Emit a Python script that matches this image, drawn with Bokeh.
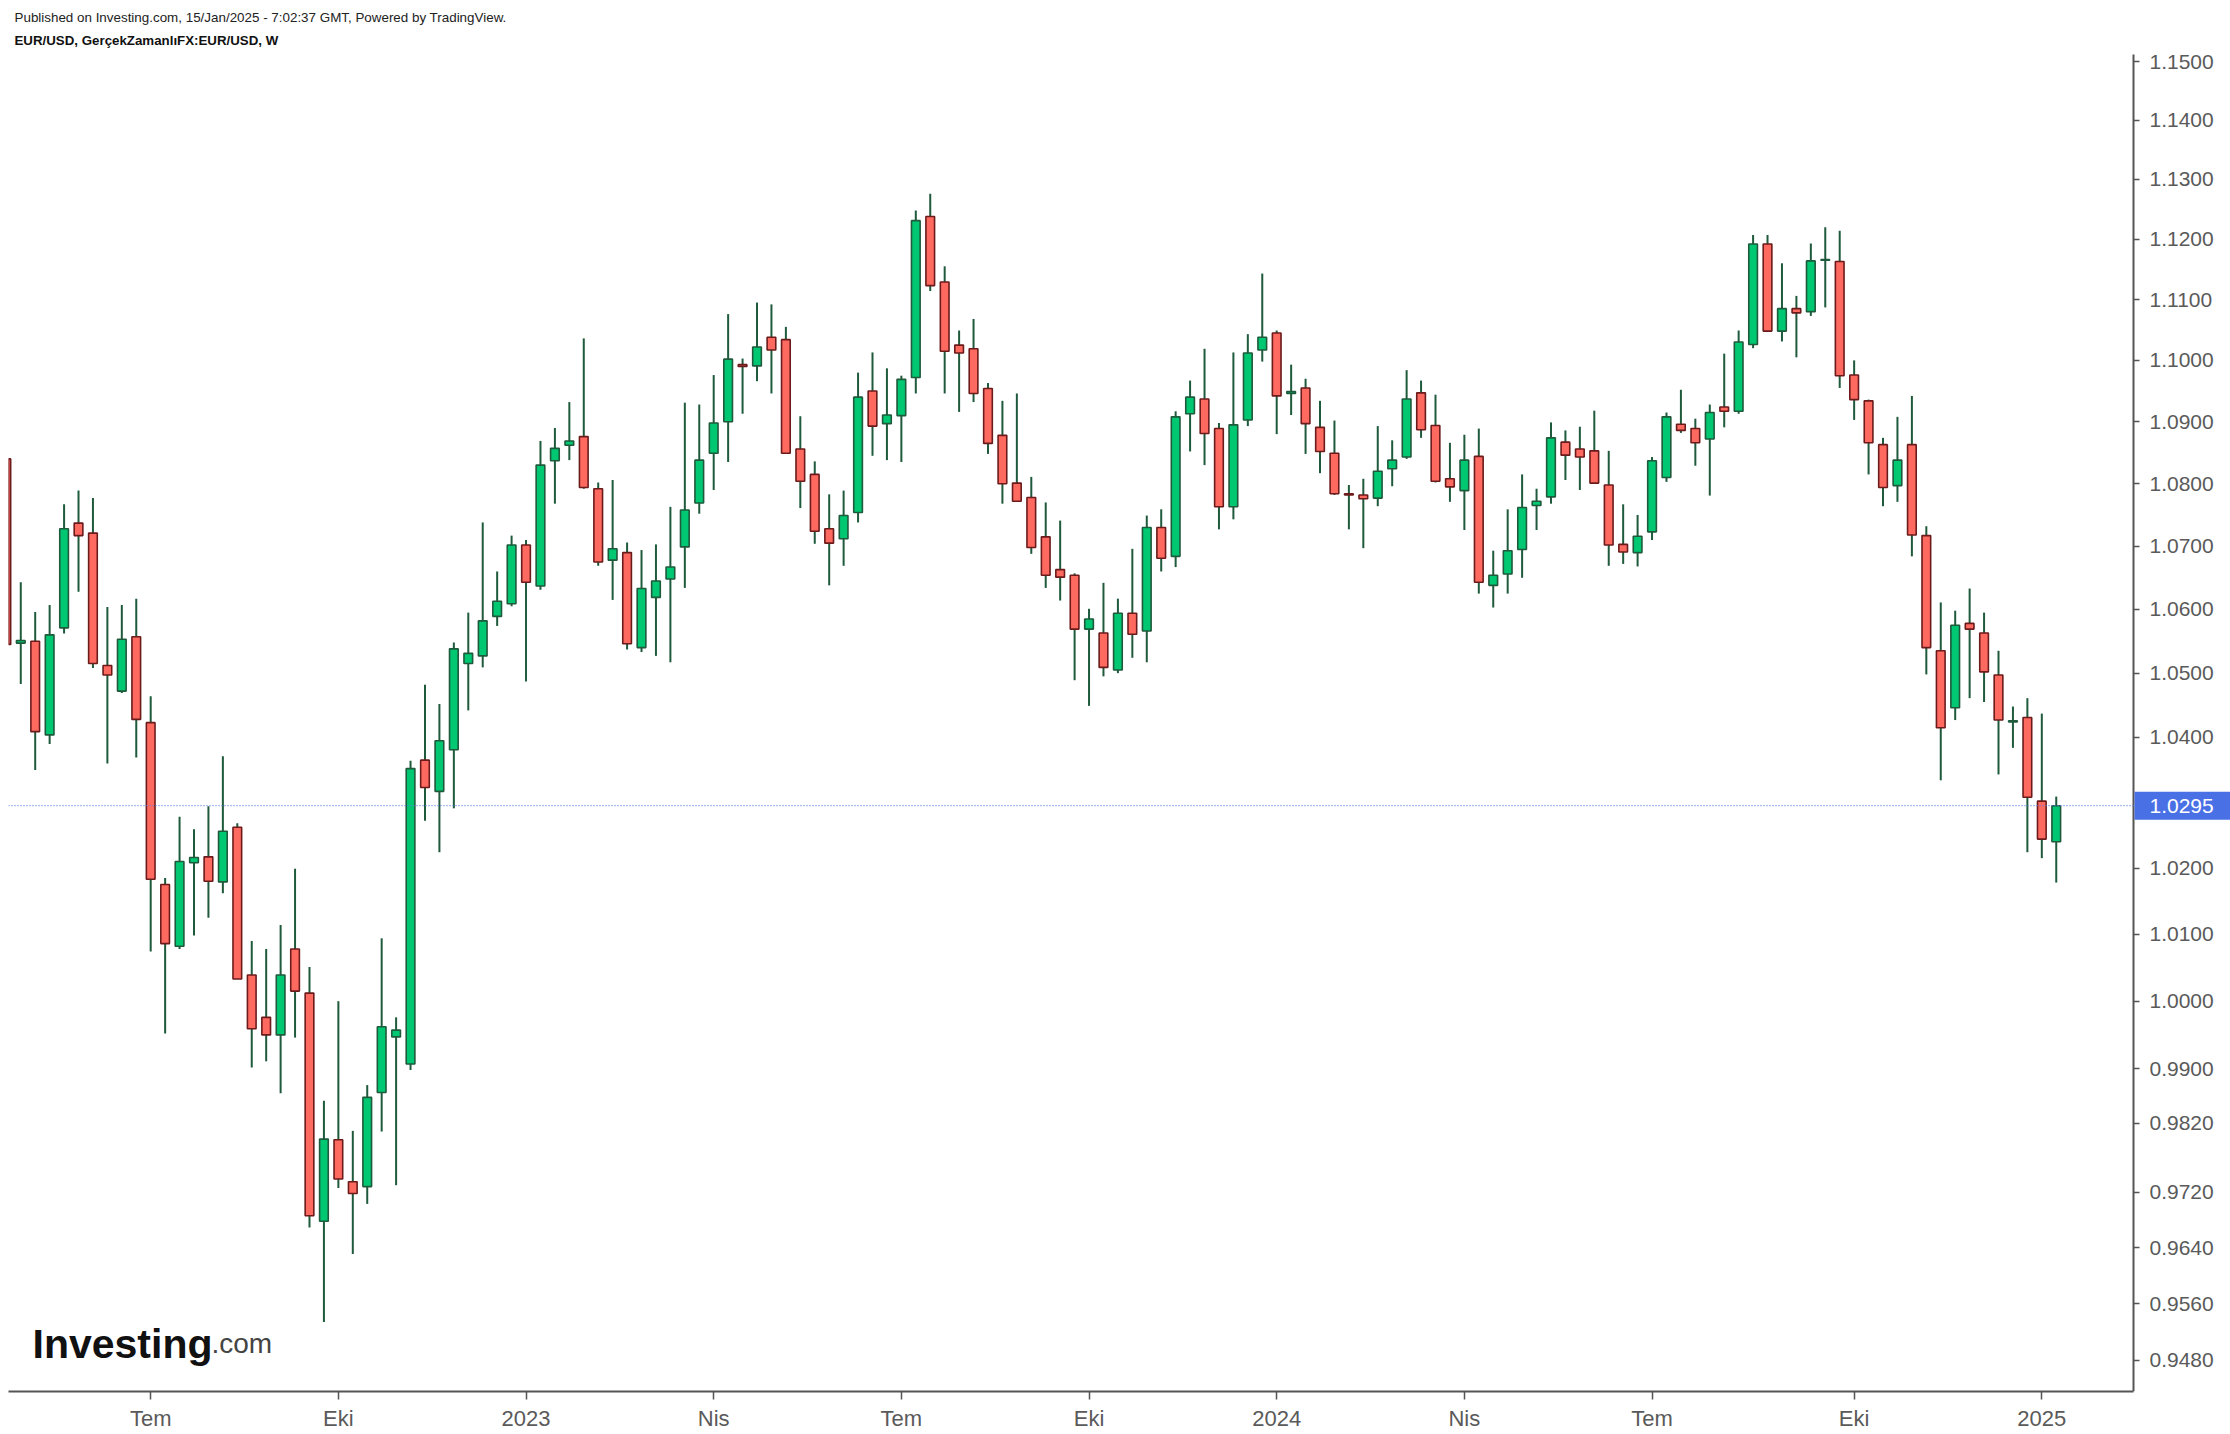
import math
import pandas as pd
from bokeh.plotting import figure
from bokeh.models import (ColumnDataSource, FixedTicker, PrintfTickFormatter, Span,
                          Label, Range1d)
from bokeh.embed import file_html
from bokeh.resources import INLINE

# ---------------- data (EUR/USD weekly) ----------------
week_start = pd.date_range("2022-04-25", periods=143, freq="W-MON")

open_ = [1.0840, 1.0547, 1.0550, 1.0404, 1.0571, 1.0737, 1.0721, 1.0512, 1.0472, 1.0557,
         1.0423, 1.0175, 1.0082, 1.0208, 1.0217, 1.0179, 1.0262, 1.0039, 0.9976, 0.9950,
         1.0078, 1.0012, 0.9678, 0.9796, 0.9735, 0.9728, 0.9865, 0.9947, 0.9907, 1.0365,
         1.0317, 1.0381, 1.0515, 1.0527, 1.0589, 1.0609, 1.0702, 1.0637, 1.0837, 1.0862,
         1.0876, 1.0792, 1.0678, 1.0690, 1.0540, 1.0619, 1.0648, 1.0699, 1.0769, 1.0849,
         1.0900, 1.0993, 1.0991, 1.1038, 1.1034, 1.0856, 1.0815, 1.0728, 1.0712, 1.0754,
         1.0950, 1.0897, 1.0910, 1.0972, 1.1238, 1.1129, 1.1025, 1.1019, 1.0954, 1.0878,
         1.0801, 1.0778, 1.0715, 1.0663, 1.0654, 1.0569, 1.0563, 1.0505, 1.0594, 1.0566,
         1.0730, 1.0684, 1.0913, 1.0937, 1.0889, 1.0763, 1.0903, 1.1017, 1.1045, 1.0946,
         1.0955, 1.0891, 1.0849, 1.0784, 1.0782, 1.0777, 1.0824, 1.0843, 1.0947, 1.0894,
         1.0808, 1.0789, 1.0844, 1.0638, 1.0656, 1.0695, 1.0765, 1.0779, 1.0867, 1.0856,
         1.0853, 1.0798, 1.0703, 1.0690, 1.0723, 1.0810, 1.0896, 1.0889, 1.0872, 1.0924,
         1.0917, 1.1026, 1.1192, 1.1048, 1.1085, 1.1080, 1.1165, 1.1163, 1.0976, 1.0934,
         1.0863, 1.0797, 1.0863, 1.0717, 1.0535, 1.0446, 1.0578, 1.0563, 1.0497, 1.0424,
         1.0431, 1.0302, 1.0240]

high = [1.0850, 1.0643, 1.0596, 1.0607, 1.0767, 1.0789, 1.0777, 1.0604, 1.0607, 1.0617,
        1.0464, 1.0185, 1.0278, 1.0259, 1.0294, 1.0371, 1.0268, 1.0090, 1.0078, 1.0114,
        1.0199, 1.0051, 0.9853, 1.0000, 0.9809, 0.9876, 1.0094, 0.9976, 1.0364, 1.0482,
        1.0452, 1.0548, 1.0595, 1.0738, 1.0660, 1.0717, 1.0710, 1.0869, 1.0890, 1.0932,
        1.1036, 1.0802, 1.0806, 1.0706, 1.0694, 1.0703, 1.0763, 1.0931, 1.0928, 1.0976,
        1.1076, 1.1003, 1.1095, 1.1092, 1.1055, 1.0909, 1.0836, 1.0783, 1.0789, 1.0980,
        1.1013, 1.0987, 1.0975, 1.1248, 1.1276, 1.1155, 1.1049, 1.1068, 1.0963, 1.0934,
        1.0946, 1.0811, 1.0770, 1.0741, 1.0657, 1.0601, 1.0642, 1.0617, 1.0696, 1.0749,
        1.0759, 1.0917, 1.0967, 1.1019, 1.0898, 1.1013, 1.1043, 1.1143, 1.1049, 1.0993,
        1.0970, 1.0934, 1.0902, 1.0798, 1.0808, 1.0893, 1.0870, 1.0984, 1.0967, 1.0944,
        1.0866, 1.0879, 1.0889, 1.0693, 1.0759, 1.0815, 1.0792, 1.0899, 1.0886, 1.0892,
        1.0918, 1.0853, 1.0767, 1.0750, 1.0843, 1.0915, 1.0952, 1.0905, 1.0928, 1.1011,
        1.1049, 1.1207, 1.1207, 1.1160, 1.1106, 1.1193, 1.1220, 1.1214, 1.1000, 1.0936,
        1.0874, 1.0908, 1.0942, 1.0732, 1.0611, 1.0598, 1.0633, 1.0595, 1.0535, 1.0448,
        1.0461, 1.0437, 1.0309]

low = [1.0470, 1.0483, 1.0350, 1.0390, 1.0562, 1.0628, 1.0508, 1.0360, 1.0469, 1.0369,
       1.0074, 0.9952, 1.0078, 1.0098, 1.0125, 1.0162, 1.0033, 0.9902, 0.9911, 0.9864,
       0.9946, 0.9669, 0.9534, 0.9726, 0.9631, 0.9703, 0.9808, 0.9730, 0.9898, 1.0272,
       1.0224, 1.0291, 1.0442, 1.0509, 1.0574, 1.0605, 1.0487, 1.0631, 1.0768, 1.0838,
       1.0792, 1.0669, 1.0615, 1.0537, 1.0533, 1.0527, 1.0517, 1.0634, 1.0752, 1.0790,
       1.0835, 1.0913, 1.0966, 1.0946, 1.0849, 1.0761, 1.0704, 1.0638, 1.0669, 1.0738,
       1.0845, 1.0838, 1.0835, 1.0946, 1.1114, 1.0946, 1.0916, 1.0932, 1.0848, 1.0768,
       1.0772, 1.0688, 1.0634, 1.0614, 1.0489, 1.0449, 1.0495, 1.0500, 1.0524, 1.0517,
       1.0660, 1.0667, 1.0852, 1.0830, 1.0727, 1.0743, 1.0893, 1.0998, 1.0880, 1.0911,
       1.0848, 1.0817, 1.0782, 1.0727, 1.0697, 1.0764, 1.0796, 1.0840, 1.0874, 1.0802,
       1.0771, 1.0726, 1.0625, 1.0603, 1.0625, 1.0650, 1.0726, 1.0768, 1.0806, 1.0790,
       1.0801, 1.0669, 1.0672, 1.0668, 1.0710, 1.0803, 1.0882, 1.0829, 1.0781, 1.0891,
       1.0913, 1.1020, 1.1048, 1.1031, 1.1005, 1.1073, 1.1087, 1.0955, 1.0903, 1.0815,
       1.0764, 1.0771, 1.0684, 1.0498, 1.0334, 1.0427, 1.0461, 1.0455, 1.0343, 1.0384,
       1.0224, 1.0215, 1.0178]

close = [1.0545, 1.0551, 1.0409, 1.0560, 1.0728, 1.0717, 1.0515, 1.0497, 1.0553, 1.0428,
         1.0183, 1.0086, 1.0210, 1.0216, 1.0180, 1.0256, 1.0033, 0.9959, 0.9950, 1.0039,
         1.0015, 0.9686, 0.9797, 0.9739, 0.9718, 0.9858, 0.9962, 0.9957, 1.0352, 1.0323,
         1.0395, 1.0538, 1.0531, 1.0582, 1.0613, 1.0702, 1.0643, 1.0830, 1.0857, 1.0869,
         1.0794, 1.0675, 1.0696, 1.0546, 1.0633, 1.0645, 1.0667, 1.0758, 1.0838, 1.0898,
         1.1002, 1.0990, 1.1022, 1.1017, 1.0849, 1.0804, 1.0724, 1.0705, 1.0749, 1.0940,
         1.0893, 1.0911, 1.0969, 1.1231, 1.1123, 1.1015, 1.1012, 1.0946, 1.0865, 1.0800,
         1.0772, 1.0698, 1.0654, 1.0651, 1.0569, 1.0585, 1.0509, 1.0594, 1.0561, 1.0730,
         1.0681, 1.0908, 1.0940, 1.0881, 1.0763, 1.0895, 1.1012, 1.1038, 1.0942, 1.0949,
         1.0897, 1.0852, 1.0784, 1.0782, 1.0776, 1.0820, 1.0838, 1.0937, 1.0887, 1.0804,
         1.0795, 1.0838, 1.0643, 1.0654, 1.0693, 1.0762, 1.0772, 1.0874, 1.0846, 1.0843,
         1.0801, 1.0702, 1.0691, 1.0716, 1.0837, 1.0908, 1.0886, 1.0866, 1.0915, 1.0917,
         1.1030, 1.1192, 1.1048, 1.1085, 1.1078, 1.1164, 1.1166, 1.0975, 1.0936, 1.0866,
         1.0794, 1.0838, 1.0718, 1.0540, 1.0415, 1.0575, 1.0569, 1.0502, 1.0427, 1.0426,
         1.0308, 1.0244, 1.0295]

tick_months = ["2022-07-01", "2022-10-01", "2023-01-01", "2023-04-01", "2023-07-01",
               "2023-10-01", "2024-01-01", "2024-04-01", "2024-07-01", "2024-10-01",
               "2025-01-01"]
tick_labels = ["Tem", "Eki", "2023", "Nis", "Tem", "Eki", "2024", "Nis", "Tem", "Eki", "2025"]

price_ticks = [1.15, 1.14, 1.13, 1.12, 1.11, 1.10, 1.09, 1.08, 1.07, 1.06, 1.05, 1.04,
               1.02, 1.01, 1.00, 0.99, 0.982, 0.972, 0.964, 0.956, 0.948]
last_price = 1.0295

header_line1 = "Published on Investing.com, 15/Jan/2025 - 7:02:37 GMT, Powered by TradingView."
header_line2 = "EUR/USD, GerçekZamanlıFX:EUR/USD, W"

# ---------------- layout constants ----------------
W, H = 2230, 1434
BL, BB = 8, 43                 # left / bottom borders of the frame
PANE_TOP, AXIS_X = 54, 2133    # price pane top edge and y-axis position (px)
PX_PER_BAR = 14.436
X0 = 0.15
Y0, Y_TOP = 0.9436, 1.1512     # price range of the visible pane
FW, FH = W - BL, H - BB
LOG_PER_PX = (math.log(Y_TOP) - math.log(Y0)) / (FH - PANE_TOP)
X1 = X0 + FW / PX_PER_BAR
Y1 = math.exp(math.log(Y0) + FH * LOG_PER_PX)

def xd(px):
    return X0 + (px - BL) / PX_PER_BAR

def yd(py):
    return math.exp(math.log(Y1) - py * LOG_PER_PX)

X_AXIS = xd(AXIS_X)

GREEN_FILL, GREEN_LINE = "#00c872", "#1e5a3b"
RED_FILL, RED_LINE = "#ff6a60", "#6b1b1b"
WICK = "#1e5a3b"
AXIS = "#555555"
FONT = "Liberation Sans"

idx = list(range(len(open_)))
up = [c >= o for o, c in zip(open_, close)]
src = ColumnDataSource(dict(
    x=idx, high=high, low=low,
    top=[max(o, c) for o, c in zip(open_, close)],
    bottom=[min(o, c) for o, c in zip(open_, close)],
    fill=[GREEN_FILL if u else RED_FILL for u in up],
    line=[GREEN_LINE if u else RED_LINE for u in up],
))

p = figure(width=W, height=H, x_range=Range1d(X0, X1), y_range=Range1d(Y0, Y1),
           y_axis_type="log", y_axis_location="right",
           output_backend="svg", toolbar_location=None,
           min_border_left=BL, min_border_right=0, min_border_top=0, min_border_bottom=BB)
p.xgrid.visible = False
p.ygrid.visible = False
p.outline_line_color = None
p.background_fill_color = "white"
p.border_fill_color = "white"

# current price line
p.add_layout(Span(location=last_price, dimension="width", line_color="#5b7fe6",
                  line_dash="1 2", line_width=1.2))

p.segment(x0="x", y0="low", x1="x", y1="high", source=src, line_color=WICK, line_width=2)
p.vbar(x="x", width=0.6, top="top", bottom="bottom", source=src,
       fill_color="fill", line_color="line", line_width=1.6)

# x axis ticks at the first weekly bar of each quarter
tick_pos = []
for m in tick_months:
    ts = pd.Timestamp(m)
    tick_pos.append(float(next(i for i, d in enumerate(week_start) if d >= ts)))
p.xaxis.ticker = FixedTicker(ticks=tick_pos, minor_ticks=[])
p.xaxis.major_label_overrides = {t: l for t, l in zip(tick_pos, tick_labels)}
p.xaxis.bounds = (X0, X_AXIS)

p.yaxis.ticker = FixedTicker(ticks=price_ticks, minor_ticks=[])
p.yaxis.formatter = PrintfTickFormatter(format="%.4f")
p.yaxis.fixed_location = X_AXIS
p.yaxis.bounds = (Y0, Y_TOP)

for ax in (p.xaxis[0], p.yaxis[0]):
    ax.axis_line_color = AXIS
    ax.axis_line_width = 2
    ax.major_tick_line_color = AXIS
    ax.major_tick_line_width = 1.5
    ax.major_tick_in = 0
    ax.minor_tick_line_color = None
    ax.major_label_text_color = "#5a5a5a"
    ax.major_label_text_font = FONT
p.xaxis.major_label_text_font_size = "22px"
p.yaxis.major_label_text_font_size = "21px"
p.xaxis.major_tick_out = 8
p.xaxis.major_label_standoff = 6
p.yaxis.major_tick_out = 6
p.yaxis.major_label_standoff = 10

# price badge on the right axis
p.add_layout(Label(x=X_AXIS, y=last_price, x_offset=1, text=f"{last_price:.4f}",
                   text_align="left", text_baseline="middle", text_color="white",
                   text_font=FONT, text_font_size="21px",
                   background_fill_color="#4a70e6",
                   padding=dict(left=15, right=30, top=7, bottom=7)))

# header
p.add_layout(Label(x=xd(14), y=yd(17), text=header_line1, text_baseline="middle",
                   text_font=FONT, text_font_size="13.4px", text_color="#222222"))
p.add_layout(Label(x=xd(14), y=yd(40), text=header_line2, text_baseline="middle",
                   text_font=FONT, text_font_size="13.3px", text_font_style="bold",
                   text_color="#111111"))

# watermark logo
p.add_layout(Label(x=xd(32), y=yd(1343), text="Investing", text_baseline="alphabetic",
                   text_font=FONT, text_font_size="41px", text_font_style="bold",
                   text_color="#111111"))
p.add_layout(Label(x=xd(211), y=yd(1343), text=".com", text_baseline="alphabetic",
                   text_font=FONT, text_font_size="28px", text_color="#444444"))

open("out.html", "w").write(file_html(p, INLINE))
